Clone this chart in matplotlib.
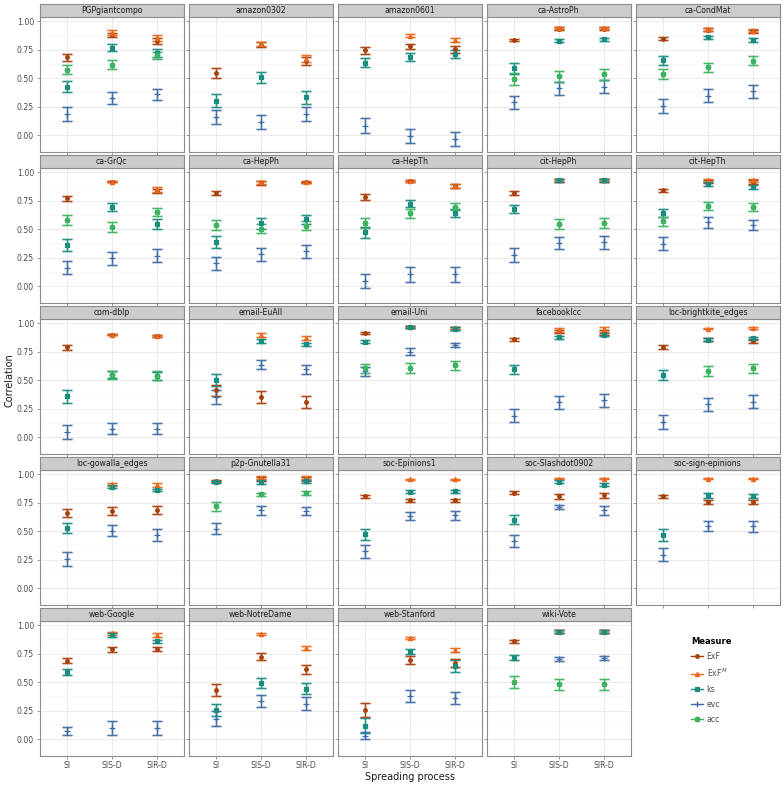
import numpy as np
import matplotlib
matplotlib.use("Agg")
import matplotlib.pyplot as plt
from matplotlib.lines import Line2D

nan = np.nan

networks = ["PGPgiantcompo", "amazon0302", "amazon0601", "ca-AstroPh", "ca-CondMat",
            "ca-GrQc", "ca-HepPh", "ca-HepTh", "cit-HepPh", "cit-HepTh",
            "com-dblp", "email-EuAll", "email-Uni", "facebooklcc", "loc-brightkite_edges",
            "loc-gowalla_edges", "p2p-Gnutella31", "soc-Epinions1", "soc-Slashdot0902",
            "soc-sign-epinions", "web-Google", "web-NotreDame", "web-Stanford", "wiki-Vote"]
processes = ["SI", "SIS-D", "SIR-D"]
measures = ["ExF", "ExF$^M$", "ks", "evc", "acc"]

# mean correlation per network x (SI, SIS-D, SIR-D)
exf_mean = [[0.685, 0.88, 0.825], [0.545, 0.795, 0.655], [0.743, 0.778, 0.754],
            [0.836, 0.935, 0.935], [0.845, 0.925, 0.91], [0.77, 0.918, 0.834],
            [0.819, 0.905, 0.91], [0.781, 0.922, 0.878], [0.819, 0.927, 0.927],
            [0.84, 0.92, 0.915], [0.787, 0.90, 0.89], [0.41, 0.354, 0.31],
            [0.915, 0.965, 0.952], [0.86, 0.927, 0.918], [0.792, 0.855, 0.845],
            [0.659, 0.676, 0.682], [0.938, 0.959, 0.959], [0.805, 0.77, 0.77],
            [0.837, 0.805, 0.813], [0.807, 0.757, 0.757], [0.687, 0.789, 0.792],
            [0.433, 0.725, 0.614], [0.254, 0.696, 0.667], [0.86, 0.944, 0.944]]
exf_err = [[0.03, 0.02, 0.025], [0.045, 0.02, 0.035], [0.03, 0.025, 0.03],
           [0.012, 0.012, 0.012], [0.012, 0.012, 0.012], [0.025, 0.008, 0.02],
           [0.02, 0.015, 0.008], [0.025, 0.008, 0.015], [0.015, 0.01, 0.01],
           [0.015, 0.012, 0.015], [0.025, 0.007, 0.007], [0.05, 0.055, 0.055],
           [0.008, 0.01, 0.012], [0.012, 0.015, 0.02], [0.02, 0.012, 0.02],
           [0.035, 0.035, 0.035], [0.01, 0.015, 0.015], [0.015, 0.015, 0.015],
           [0.012, 0.02, 0.02], [0.013, 0.02, 0.02], [0.022, 0.022, 0.02],
           [0.05, 0.03, 0.04], [0.06, 0.033, 0.035], [0.012, 0.012, 0.012]]

exfm_mean = [[nan, 0.90, 0.855], [nan, 0.80, 0.67], [nan, 0.874, 0.836],
             [nan, 0.94, 0.94], [nan, 0.93, 0.915], [nan, 0.918, 0.848],
             [nan, 0.912, 0.912], [nan, 0.924, 0.88], [nan, 0.929, 0.929],
             [nan, 0.93, 0.93], [nan, 0.90, 0.89], [nan, 0.898, 0.871],
             [nan, 0.968, 0.958], [nan, 0.94, 0.945], [nan, 0.953, 0.956],
             [nan, 0.912, 0.904], [nan, 0.968, 0.968], [nan, 0.956, 0.956],
             [nan, 0.962, 0.962], [nan, 0.959, 0.959], [nan, 0.927, 0.912],
             [nan, 0.921, 0.798], [nan, 0.889, 0.784], [nan, 0.946, 0.946]]
exfm_err = [[nan, 0.02, 0.025], [nan, 0.02, 0.03], [nan, 0.015, 0.02],
            [nan, 0.012, 0.012], [nan, 0.012, 0.012], [nan, 0.008, 0.02],
            [nan, 0.012, 0.008], [nan, 0.008, 0.015], [nan, 0.01, 0.01],
            [nan, 0.012, 0.012], [nan, 0.008, 0.007], [nan, 0.015, 0.015],
            [nan, 0.01, 0.01], [nan, 0.015, 0.02], [nan, 0.008, 0.008],
            [nan, 0.012, 0.015], [nan, 0.012, 0.012], [nan, 0.006, 0.006],
            [nan, 0.008, 0.008], [nan, 0.005, 0.005], [nan, 0.01, 0.015],
            [nan, 0.008, 0.018], [nan, 0.01, 0.02], [nan, 0.012, 0.012]]

ks_mean = [[0.427, 0.766, 0.722], [0.304, 0.509, 0.333], [0.634, 0.684, 0.713],
           [0.585, 0.83, 0.84], [0.657, 0.857, 0.836], [0.362, 0.694, 0.548],
           [0.388, 0.551, 0.586], [0.472, 0.723, 0.644], [0.679, 0.929, 0.929],
           [0.641, 0.898, 0.87], [0.357, 0.548, 0.54], [0.503, 0.845, 0.813],
           [0.839, 0.965, 0.952], [0.594, 0.877, 0.898], [0.544, 0.854, 0.868],
           [0.527, 0.89, 0.862], [0.933, 0.933, 0.937], [0.472, 0.845, 0.851],
           [0.60, 0.933, 0.909], [0.466, 0.813, 0.81], [0.591, 0.912, 0.857],
           [0.257, 0.494, 0.444], [0.12, 0.769, 0.643], [0.716, 0.944, 0.944]]
ks_err = [[0.05, 0.03, 0.032], [0.06, 0.047, 0.057], [0.04, 0.035, 0.032],
          [0.045, 0.015, 0.015], [0.04, 0.012, 0.015], [0.052, 0.033, 0.044],
          [0.054, 0.045, 0.042], [0.047, 0.029, 0.037], [0.035, 0.012, 0.012],
          [0.035, 0.015, 0.015], [0.055, 0.03, 0.035], [0.05, 0.015, 0.015],
          [0.015, 0.01, 0.012], [0.042, 0.012, 0.012], [0.045, 0.013, 0.013],
          [0.046, 0.015, 0.012], [0.01, 0.02, 0.015], [0.048, 0.013, 0.013],
          [0.041, 0.012, 0.01], [0.05, 0.02, 0.02], [0.025, 0.015, 0.015],
          [0.055, 0.047, 0.05], [0.065, 0.02, 0.05], [0.02, 0.012, 0.012]]

evc_mean = [[0.187, 0.327, 0.357], [0.158, 0.118, 0.187], [0.085, -0.005, -0.032],
            [0.29, 0.41, 0.425], [0.256, 0.347, 0.385], [0.163, 0.245, 0.268],
            [0.201, 0.278, 0.305], [0.045, 0.103, 0.103], [0.274, 0.378, 0.385],
            [0.373, 0.56, 0.534], [0.045, 0.075, 0.075], [0.35, 0.635, 0.597],
            [0.58, 0.75, 0.81], [0.19, 0.306, 0.322], [0.133, 0.287, 0.31],
            [0.256, 0.505, 0.465], [0.523, 0.682, 0.677], [0.325, 0.635, 0.638],
            [0.416, 0.711, 0.685], [0.293, 0.544, 0.543], [0.073, 0.097, 0.1],
            [0.18, 0.335, 0.313], [0.03, 0.376, 0.364], [nan, 0.705, 0.713]]
evc_err = [[0.06, 0.055, 0.052], [0.06, 0.062, 0.06], [0.062, 0.062, 0.063],
           [0.058, 0.056, 0.055], [0.06, 0.055, 0.056], [0.06, 0.056, 0.057],
           [0.058, 0.058, 0.058], [0.062, 0.062, 0.062], [0.058, 0.054, 0.055],
           [0.056, 0.047, 0.044], [0.063, 0.048, 0.048], [0.062, 0.04, 0.04],
           [0.04, 0.03, 0.018], [0.061, 0.055, 0.056], [0.06, 0.056, 0.056],
           [0.058, 0.05, 0.05], [0.048, 0.04, 0.038], [0.056, 0.037, 0.038],
           [0.053, 0.02, 0.04], [0.057, 0.044, 0.046], [0.035, 0.062, 0.063],
           [0.063, 0.055, 0.058], [0.032, 0.054, 0.054], [nan, 0.018, 0.018]]

acc_mean = [[0.576, 0.62, 0.70], [nan, nan, nan], [nan, nan, nan],
            [0.49, 0.515, 0.535], [0.535, 0.596, 0.655], [0.58, 0.517, 0.653],
            [0.536, 0.505, 0.532], [0.555, 0.638, 0.697], [nan, 0.545, 0.551],
            [0.568, 0.70, 0.694], [nan, 0.548, 0.54], [nan, nan, nan],
            [0.605, 0.608, 0.629], [nan, nan, nan], [nan, 0.582, 0.603],
            [nan, nan, nan], [0.717, 0.822, 0.836], [nan, nan, nan],
            [nan, nan, nan], [nan, nan, nan], [nan, nan, nan],
            [nan, nan, nan], [nan, nan, nan], [0.5, 0.482, 0.482]]
acc_err = [[0.042, 0.04, 0.03], [nan, nan, nan], [nan, nan, nan],
           [0.054, 0.048, 0.048], [0.044, 0.041, 0.038], [0.045, 0.045, 0.037],
           [0.044, 0.04, 0.043], [0.041, 0.037, 0.033], [nan, 0.045, 0.044],
           [0.043, 0.035, 0.035], [nan, 0.035, 0.04], [nan, nan, nan],
           [0.04, 0.043, 0.04], [nan, nan, nan], [nan, 0.041, 0.041],
           [nan, nan, nan], [0.036, 0.015, 0.015], [nan, nan, nan],
           [nan, nan, nan], [nan, nan, nan], [nan, nan, nan],
           [nan, nan, nan], [nan, nan, nan], [0.052, 0.048, 0.048]]

series = [(exf_mean, exf_err), (exfm_mean, exfm_err), (ks_mean, ks_err),
          (evc_mean, evc_err), (acc_mean, acc_err)]
colors = ["#A8400C", "#E8691E", "#1B8C80", "#3E6BA6", "#3DB361"]
markers = ["o", "^", "s", "+", (8, 2, 0)]
msizes = [2.6, 3.0, 2.6, 4.2, 4.0]

W, H = 784, 786
fig = plt.figure(figsize=(W / 100, H / 100), dpi=100)


def frac(x0, y0, w, h):
    return [x0 / W, 1 - (y0 + h) / H, w / W, h / H]


PX0, PW, PSTEP = 39.5, 144.5, 149.0
PY0, PH, RSTEP, SH = 16.5, 135.0, 151.0, 12.5
TXT = "#4D4D4D"
FS = 5.6

for i, name in enumerate(networks):
    r, c = divmod(i, 5)
    x0 = PX0 + c * PSTEP
    y0 = PY0 + r * RSTEP
    ax = fig.add_axes(frac(x0, y0, PW, PH))
    sax = fig.add_axes(frac(x0, y0 - SH, PW, SH))
    sax.set_facecolor("#CCCCCC")
    sax.set_xticks([]); sax.set_yticks([])
    for sp in sax.spines.values():
        sp.set_color("#8C8C8C"); sp.set_linewidth(0.8)
    sax.text(0.5, 0.45, name, ha="center", va="center", fontsize=FS, color="#1A1A1A",
             transform=sax.transAxes)

    ax.set_xlim(0.4, 3.6)
    ax.set_ylim(-0.143, 1.041)
    ax.set_xticks([1, 2, 3])
    ax.set_yticks([0, 0.25, 0.5, 0.75, 1.0])
    ax.set_yticks([-0.125, 0.125, 0.375, 0.625, 0.875], minor=True)
    ax.grid(True, which="major", color="#E8E8E8", linewidth=0.6)
    ax.grid(True, which="minor", axis="y", color="#F5F5F5", linewidth=0.5)
    ax.set_axisbelow(True)
    for sp in ax.spines.values():
        sp.set_color("#8C8C8C"); sp.set_linewidth(0.8)
    ax.tick_params(which="major", length=2.5, width=0.6, color="#8C8C8C",
                   labelsize=FS, labelcolor=TXT, pad=1.5)
    ax.tick_params(which="minor", length=0)
    if c == 0:
        ax.set_yticklabels(["0.00", "0.25", "0.50", "0.75", "1.00"])
    else:
        ax.set_yticklabels([])
    if r == 4:
        ax.set_xticklabels(processes)
    else:
        ax.set_xticklabels([])

    xs = np.arange(1, 4)
    for (mean, err), col, mk, ms in zip(series, colors, markers, msizes):
        m = np.array(mean[i], dtype=float)
        e = np.array(err[i], dtype=float)
        ok = ~np.isnan(m)
        if not ok.any():
            continue
        ax.errorbar(xs[ok], m[ok], yerr=e[ok], fmt="none", ecolor=col, alpha=0.35,
                    elinewidth=1.8, capsize=3.6, capthick=1.8, zorder=2)
        ax.errorbar(xs[ok], m[ok], yerr=e[ok], fmt="none", ecolor=col, alpha=0.9,
                    elinewidth=0.8, capsize=3.6, capthick=0.8, zorder=3)
        ax.plot(xs[ok], m[ok], linestyle="none", marker=mk, markersize=ms, color=col,
                markeredgewidth=0.9, zorder=4)

fig.text((PX0 + (4 * PSTEP + PW) / 2) / W, 1 - 777 / H, "Spreading process",
         ha="center", va="center", fontsize=7, color="#1A1A1A")
fig.text(10 / W, 1 - 380 / H, "Correlation", ha="center", va="center",
         rotation=90, fontsize=7, color="#1A1A1A")

handles = [Line2D([0], [0], color=col, marker=mk, markersize=ms, linewidth=1.0,
                  markeredgewidth=0.9)
           for col, mk, ms in zip(colors, markers, msizes)]
leg = fig.legend(handles, measures, loc="upper left",
                 bbox_to_anchor=(684 / W, 1 - 630 / H), frameon=False,
                 title="Measure", fontsize=FS, title_fontsize=FS + 0.4,
                 handlelength=1.6, handletextpad=0.4, labelspacing=0.75,
                 alignment="left")
leg.get_title().set_fontweight("bold")
for t in leg.get_texts():
    t.set_color(TXT)

fig.savefig("out.png", dpi=100, facecolor="white")
